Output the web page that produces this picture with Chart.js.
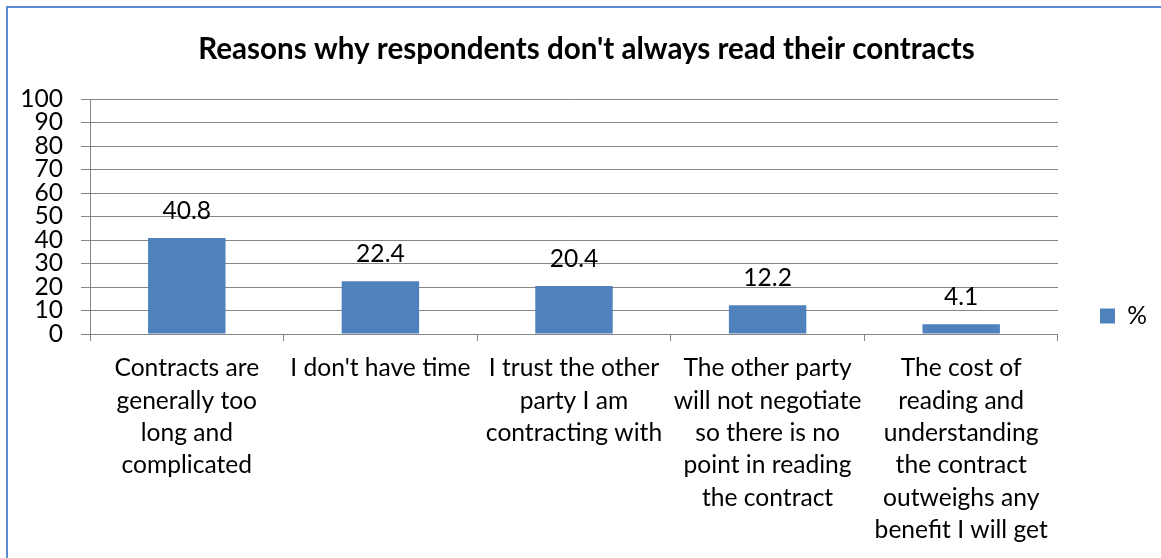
<!DOCTYPE html>
<html>
<head>
<meta charset="utf-8">
<script src="https://cdn.jsdelivr.net/npm/chart.js@4/dist/chart.umd.min.js"></script>
<style>
html,body{margin:0;padding:0;background:#fff;}
#wrap{width:1161px;height:558px;position:relative;overflow:hidden;}
canvas{display:block;}
</style>
</head>
<body>
<div id="wrap"><canvas id="c" width="1161" height="558"></canvas></div>
<script>
// ---- Data ----
const titleText = "Reasons why respondents don't always read their contracts";
const categories = [
  ["Contracts are", "generally too", "long and", "complicated"],
  ["I don't have time"],
  ["I trust the other", "party I am", "contracting with"],
  ["The other party", "will not negotiate", "so there is no", "point in reading", "the contract"],
  ["The cost of", "reading and", "understanding", "the contract", "outweighs any", "benefit I will get"]
];
const seriesName = "%";
const percentValues = [40.8, 22.4, 20.4, 12.2, 4.1];
const yTickValues = [0, 10, 20, 30, 40, 50, 60, 70, 80, 90, 100];

// ---- Styling helpers ----
const FAMILY = "Lato, 'Open Sans', sans-serif";
function fitSize(text, weight, target) {
  const ctx = document.createElement('canvas').getContext('2d');
  ctx.font = weight + ' 100px ' + FAMILY;
  return 100 * target / ctx.measureText(text).width;
}
const labelSize = Math.round(((fitSize("Contracts are", "normal", 145) +
  fitSize("I don't have time", "normal", 181) +
  fitSize("benefit I will get", "normal", 173)) / 3) * 10) / 10;
const titleSize = Math.round(fitSize(titleText, "bold", 778) * 10) / 10;
const titleLine = titleSize * 1.2;
const titlePadTop = Math.round(50 - titleLine / 2);
const titlePadBottom = 99 - titlePadTop - titleLine;

const BAR = '#4F81BD';
const GRID = '#868686';

const frame = {
  id: 'frame',
  beforeDraw(chart) {
    const ctx = chart.ctx;
    ctx.save();
    ctx.fillStyle = '#fff';
    ctx.fillRect(0, 0, chart.width, chart.height);
    ctx.strokeStyle = '#5b8bd3';
    ctx.lineWidth = 2;
    ctx.strokeRect(7, 7, chart.width + 20, chart.height + 20);
    ctx.restore();
  }
};

// Shift the legend block down so it sits centred below the title, as in the reference
const legendShift = {
  id: 'legendShift',
  afterLayout(chart) {
    if (chart.legend) {
      chart.legend.top += 37;
      chart.legend.bottom += 37;
    }
  }
};

const valueLabels = {
  id: 'valueLabels',
  afterDatasetsDraw(chart) {
    const ctx = chart.ctx;
    ctx.save();
    ctx.font = labelSize + 'px ' + FAMILY;
    ctx.fillStyle = '#000';
    ctx.textAlign = 'center';
    ctx.textBaseline = 'alphabetic';
    chart.getDatasetMeta(0).data.forEach((bar, i) => {
      ctx.fillText(String(chart.data.datasets[0].data[i]), bar.x, bar.y - 19);
    });
    ctx.restore();
  }
};

new Chart(document.getElementById('c'), {
  type: 'bar',
  data: {
    labels: categories,
    datasets: [{
      label: seriesName,
      data: percentValues,
      backgroundColor: BAR,
      borderWidth: 0,
      categoryPercentage: 0.4,
      barPercentage: 1.0
    }]
  },
  options: {
    responsive: false,
    animation: false,
    devicePixelRatio: 1,
    layout: { padding: { left: 16, right: 4, top: 0, bottom: 0 } },
    plugins: {
      title: {
        display: true,
        text: titleText,
        color: '#000',
        font: { family: FAMILY, size: titleSize, weight: 'bold' },
        padding: { top: titlePadTop, bottom: titlePadBottom }
      },
      legend: {
        display: true,
        position: 'right',
        align: 'center',
        labels: {
          boxWidth: 15,
          boxHeight: 15,
          padding: 42,
          color: '#000',
          font: { family: FAMILY, size: labelSize }
        }
      },
      tooltip: { enabled: false }
    },
    scales: {
      x: {
        grid: { drawOnChartArea: false, color: GRID, tickLength: 7, offset: true },
        border: { color: GRID, width: 1 },
        ticks: {
          padding: 11, color: '#000', maxRotation: 0, autoSkip: false,
          font: { family: FAMILY, size: labelSize, lineHeight: '32.4px' }
        },
        afterFit(s) { s.height = 224; }
      },
      y: {
        min: 0, max: 100,
        afterBuildTicks(s) { s.ticks = yTickValues.map(v => ({ value: v })); },
        grid: { color: GRID, lineWidth: 1, tickLength: 9 },
        border: { color: GRID, width: 1 },
        ticks: {
          autoSkip: false, padding: 18, color: '#000',
          font: { family: FAMILY, size: labelSize }
        },
        afterFit(s) { s.width = 74; }
      }
    }
  },
  plugins: [frame, legendShift, valueLabels]
});
</script>
</body>
</html>
